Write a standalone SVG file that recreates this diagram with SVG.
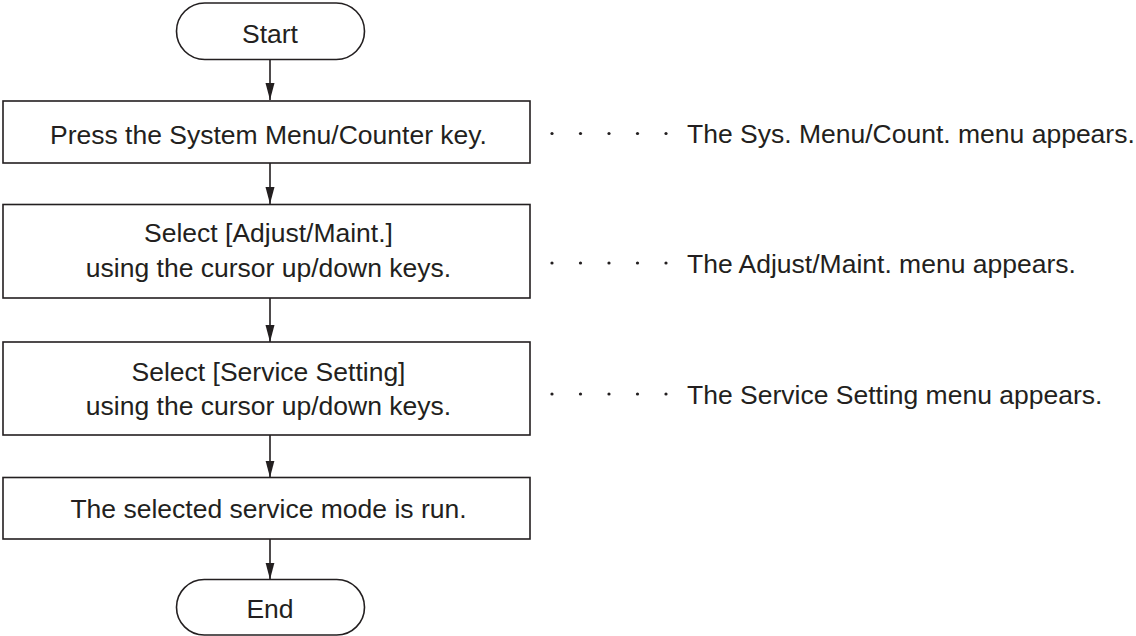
<svg xmlns="http://www.w3.org/2000/svg" width="1136" height="636" viewBox="0 0 1136 636">
<defs>
<style>
.box{fill:#fff;stroke:#231f20;stroke-width:1.6}
.t{font-family:"Liberation Sans",Arial,sans-serif;font-size:26.5px;fill:#231f20}
.c{text-anchor:middle}
.ln{stroke:#231f20;stroke-width:1.6;fill:none}
.dot{fill:#231f20}
</style>
<marker id="ah" markerWidth="18" markerHeight="10" refX="17" refY="5" orient="auto" markerUnits="userSpaceOnUse" viewBox="0 0 18 10">
<path d="M0,0.5 L17,5 L0,9.5 Z" fill="#231f20"/>
</marker>
</defs>
<rect width="1136" height="636" fill="#fff"/>
<g id="connectors">
<line class="ln" x1="270" y1="59.5" x2="270" y2="100" marker-end="url(#ah)"/>
<line class="ln" x1="270" y1="163" x2="270" y2="204" marker-end="url(#ah)"/>
<line class="ln" x1="270" y1="298" x2="270" y2="342" marker-end="url(#ah)"/>
<line class="ln" x1="270" y1="435" x2="270" y2="477.5" marker-end="url(#ah)"/>
<line class="ln" x1="270" y1="539" x2="270" y2="579.5" marker-end="url(#ah)"/>
</g>
<g id="start">
<rect class="box" x="176.5" y="3" width="188" height="56.5" rx="28.25" ry="28.25"/>
<text class="t c" x="270" y="42.5">Start</text>
</g>
<g id="step1">
<rect class="box" x="3" y="101" width="527" height="62"/>
<text class="t c" x="268.5" y="144">Press the System Menu/Counter key.</text>
</g>
<g id="step2">
<rect class="box" x="3" y="204.5" width="527" height="93.5"/>
<text class="t c" x="268.5" y="241.5">Select [Adjust/Maint.]</text>
<text class="t c" x="268.5" y="276.5">using the cursor up/down keys.</text>
</g>
<g id="step3">
<rect class="box" x="3" y="342" width="527" height="93"/>
<text class="t c" x="268.5" y="381">Select [Service Setting]</text>
<text class="t c" x="268.5" y="415">using the cursor up/down keys.</text>
</g>
<g id="step4">
<rect class="box" x="3" y="477.5" width="527" height="61.5"/>
<text class="t c" x="268.5" y="517.5">The selected service mode is run.</text>
</g>
<g id="end">
<rect class="box" x="176.5" y="579.5" width="188" height="55.5" rx="27.75" ry="27.75"/>
<text class="t c" x="270" y="617.5">End</text>
</g>
<g id="note1">
<circle class="dot" cx="552" cy="133.5" r="1.6"/><circle class="dot" cx="580.5" cy="133.5" r="1.6"/><circle class="dot" cx="609" cy="133.5" r="1.6"/><circle class="dot" cx="637.5" cy="133.5" r="1.6"/><circle class="dot" cx="666" cy="133.5" r="1.6"/>
<text class="t" x="687" y="143">The Sys. Menu/Count. menu appears.</text>
</g>
<g id="note2">
<circle class="dot" cx="552" cy="263" r="1.6"/><circle class="dot" cx="580.5" cy="263" r="1.6"/><circle class="dot" cx="609" cy="263" r="1.6"/><circle class="dot" cx="637.5" cy="263" r="1.6"/><circle class="dot" cx="666" cy="263" r="1.6"/>
<text class="t" x="687" y="272.5">The Adjust/Maint. menu appears.</text>
</g>
<g id="note3">
<circle class="dot" cx="552" cy="394" r="1.6"/><circle class="dot" cx="580.5" cy="394" r="1.6"/><circle class="dot" cx="609" cy="394" r="1.6"/><circle class="dot" cx="637.5" cy="394" r="1.6"/><circle class="dot" cx="666" cy="394" r="1.6"/>
<text class="t" x="687" y="403.5">The Service Setting menu appears.</text>
</g>
</svg>
